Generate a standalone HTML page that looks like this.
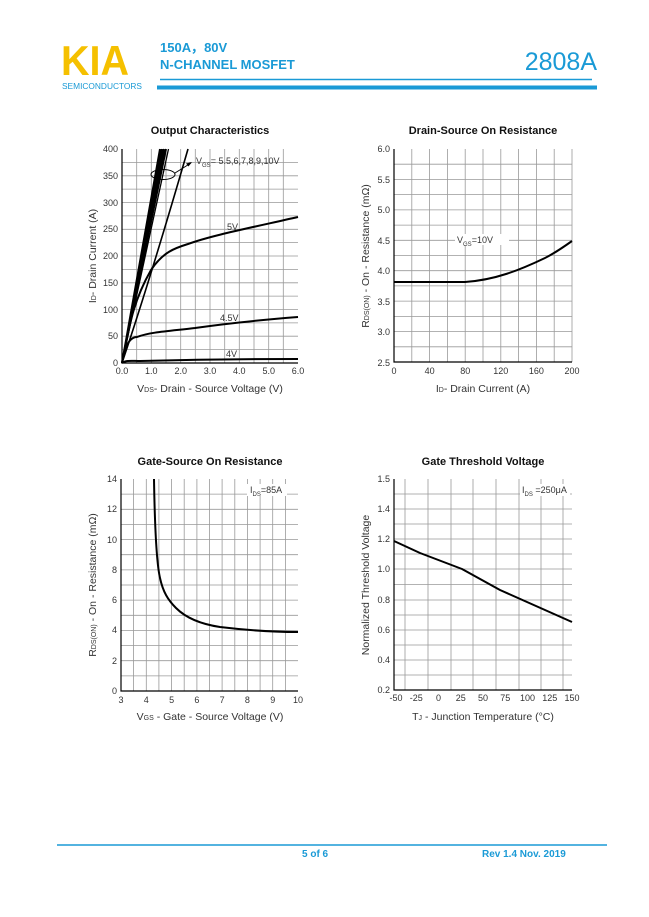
<!DOCTYPE html>
<html><head><meta charset="utf-8"><style>
html,body{margin:0;padding:0;background:#fff;}
body{width:649px;height:917px;overflow:hidden;position:relative;font-family:"Liberation Sans",Arial,sans-serif;}
</style></head><body>
<svg width="649" height="917" viewBox="0 0 649 917" xmlns="http://www.w3.org/2000/svg" style="position:absolute;left:0;top:0;font-family:'Liberation Sans',Arial,sans-serif">
<!-- header -->
<text x="61" y="75" font-size="42" font-weight="bold" fill="#f5c000" textLength="68" lengthAdjust="spacingAndGlyphs">KIA</text>
<text x="62" y="89" font-size="8" fill="#1a9ad6" textLength="80" lengthAdjust="spacingAndGlyphs">SEMICONDUCTORS</text>
<text x="160" y="52" font-size="13" font-weight="bold" fill="#1a9ad6">150A，80V</text>
<text x="160" y="69" font-size="13" font-weight="bold" fill="#1a9ad6">N-CHANNEL MOSFET</text>
<text x="597" y="70" font-size="25" fill="#1a9ad6" text-anchor="end">2808A</text>
<line x1="160" y1="79.5" x2="592" y2="79.5" stroke="#1a9ad6" stroke-width="1.5"/>
<line x1="157" y1="87.5" x2="597" y2="87.5" stroke="#1a9ad6" stroke-width="4"/>
<!-- footer -->
<line x1="57" y1="845" x2="607" y2="845" stroke="#1a9ad6" stroke-width="1.5"/>
<text x="302" y="857" font-size="10" font-weight="bold" fill="#1a9ad6">5 of 6</text>
<text x="482" y="857" font-size="10" font-weight="bold" fill="#1a9ad6">Rev 1.4 Nov. 2019</text>

<g font-size="9.5" fill="#333">
<!-- Chart 1 -->
<text x="210" y="134" font-size="11" font-weight="bold" text-anchor="middle" fill="#111">Output Characteristics</text>
<g stroke="#999" stroke-width="0.8">
<path d="M136.7 149V363M151.3 149V363M166 149V363M180.7 149V363M195.3 149V363M210 149V363M224.7 149V363M239.3 149V363M254 149V363M268.7 149V363M283.3 149V363"/>
<path d="M122 162.4H298M122 175.8H298M122 189.1H298M122 202.5H298M122 215.9H298M122 229.3H298M122 242.6H298M122 256H298M122 269.4H298M122 282.8H298M122 296.1H298M122 309.5H298M122 322.9H298M122 336.2H298M122 349.6H298"/>
</g>
<path d="M122 149V363H298" fill="none" stroke="#000" stroke-width="1.2"/>
<g fill="none" stroke="#000" stroke-width="2">
<path d="M122 363L160 149M122 363L162 149M122 363L164 149M122 363L166 149"/>
<path d="M122 363L168.5 149" stroke-width="1.3"/>
<path d="M122 363Q150 280 188 149" stroke-width="1.6"/>
<path d="M122 363C130 320 135 298 151 270C163 252 175 248 188 244C210 236 240 230 298 217"/>
<path d="M122 363C125 345 130 337 137 337C150 332 170 331 195 328C230 323 260 320 298 317"/>
<path d="M122 363C126 360 132 361 140 361C180 360 240 359 298 359"/>
</g>
<ellipse cx="163" cy="174.5" rx="12" ry="5" fill="none" stroke="#000" stroke-width="1"/>
<path d="M175 173L191 163" stroke="#000" stroke-width="1"/><path d="M192 162l-6 1.5 2.5 3z" fill="#000"/>
<text x="196" y="164" font-size="9">V<tspan font-size="6" dy="3">GS</tspan><tspan dy="-3">= 5.5,6,7,8,9,10V</tspan></text>
<text x="227" y="230" font-size="9">5V</text>
<text x="220" y="321" font-size="9">4.5V</text>
<text x="226" y="357" font-size="9">4V</text>
<g text-anchor="end" font-size="9">
<text x="118" y="152">400</text><text x="118" y="179">350</text><text x="118" y="206">300</text><text x="118" y="232">250</text><text x="118" y="259">200</text><text x="118" y="286">150</text><text x="118" y="313">100</text><text x="118" y="339">50</text><text x="118" y="366">0</text>
</g>
<g text-anchor="middle" font-size="9">
<text x="122" y="374">0.0</text><text x="151.3" y="374">1.0</text><text x="180.7" y="374">2.0</text><text x="210" y="374">3.0</text><text x="239.3" y="374">4.0</text><text x="268.7" y="374">5.0</text><text x="298" y="374">6.0</text>
</g>
<text x="210" y="392" font-size="10.5" text-anchor="middle">V<tspan font-size="7">DS</tspan>- Drain - Source Voltage (V)</text>
<text transform="translate(96 256) rotate(-90)" font-size="10.5" text-anchor="middle">I<tspan font-size="7">D</tspan>- Drain Current (A)</text>

<!-- Chart 2 -->
<text x="483" y="134" font-size="11" font-weight="bold" text-anchor="middle" fill="#111">Drain-Source On Resistance</text>
<g stroke="#999" stroke-width="0.8">
<path d="M411.8 149V362M429.6 149V362M447.4 149V362M465.2 149V362M483 149V362M500.8 149V362M518.6 149V362M536.4 149V362M554.2 149V362M572 149V362"/>
<path d="M394 164.2H572M394 179.4H572M394 194.6H572M394 209.9H572M394 225.1H572M394 240.3H572M394 255.5H572M394 270.7H572M394 285.9H572M394 301.1H572M394 316.4H572M394 331.6H572M394 346.8H572"/>
</g>
<path d="M394 149V362H572" fill="none" stroke="#000" stroke-width="1.2"/>
<path d="M394 282H465C495 280 520 270 545 258C555 253 565 246 572 241" fill="none" stroke="#000" stroke-width="2"/>
<rect x="455" y="234" width="54" height="11" fill="#fff"/>
<text x="457" y="243" font-size="9">V<tspan font-size="6" dy="3">GS</tspan><tspan dy="-3">=10V</tspan></text>
<g text-anchor="end" font-size="9">
<text x="390" y="152">6.0</text><text x="390" y="183">5.5</text><text x="390" y="213">5.0</text><text x="390" y="244">4.5</text><text x="390" y="274">4.0</text><text x="390" y="305">3.5</text><text x="390" y="335">3.0</text><text x="390" y="366">2.5</text>
</g>
<g text-anchor="middle" font-size="9">
<text x="394" y="374">0</text><text x="429.6" y="374">40</text><text x="465.2" y="374">80</text><text x="500.8" y="374">120</text><text x="536.4" y="374">160</text><text x="572" y="374">200</text>
</g>
<text x="483" y="392" font-size="10.5" text-anchor="middle">I<tspan font-size="7">D</tspan>- Drain Current (A)</text>
<text transform="translate(369 256) rotate(-90)" font-size="10.5" text-anchor="middle">R<tspan font-size="7">DS(ON)</tspan> - On - Resistance (mΩ)</text>

<!-- Chart 3 -->
<text x="210" y="465" font-size="11" font-weight="bold" text-anchor="middle" fill="#111">Gate-Source On Resistance</text>
<g stroke="#999" stroke-width="0.8">
<path d="M133.6 479V691M146.3 479V691M158.9 479V691M171.6 479V691M184.2 479V691M196.9 479V691M209.5 479V691M222.1 479V691M234.8 479V691M247.4 479V691M260.1 479V691M272.7 479V691M285.4 479V691"/>
<path d="M121 494.1H298M121 509.3H298M121 524.4H298M121 539.6H298M121 554.7H298M121 569.9H298M121 585H298M121 600.1H298M121 615.3H298M121 630.4H298M121 645.6H298M121 660.7H298M121 675.9H298"/>
</g>
<path d="M121 479V691H298" fill="none" stroke="#000" stroke-width="1.2"/>
<path d="M154 479C155 540 157 565 160 578C163 592 168 600 176 608C186 618 200 624 220 627C245 630 270 632 298 632" fill="none" stroke="#000" stroke-width="2"/>
<rect x="247" y="484" width="40" height="12" fill="#fff"/>
<text x="250" y="493" font-size="9">I<tspan font-size="6" dy="3">DS</tspan><tspan dy="-3">=85A</tspan></text>
<g text-anchor="end" font-size="9">
<text x="117" y="482">14</text><text x="117" y="512">12</text><text x="117" y="543">10</text><text x="117" y="573">8</text><text x="117" y="603">6</text><text x="117" y="633">4</text><text x="117" y="664">2</text><text x="117" y="694">0</text>
</g>
<g text-anchor="middle" font-size="9">
<text x="121" y="703">3</text><text x="146.3" y="703">4</text><text x="171.6" y="703">5</text><text x="196.9" y="703">6</text><text x="222.1" y="703">7</text><text x="247.4" y="703">8</text><text x="272.7" y="703">9</text><text x="298" y="703">10</text>
</g>
<text x="210" y="720" font-size="10.5" text-anchor="middle">V<tspan font-size="7">GS</tspan> - Gate - Source Voltage (V)</text>
<text transform="translate(96 585) rotate(-90)" font-size="10.5" text-anchor="middle">R<tspan font-size="7">DS(ON)</tspan> - On - Resistance (mΩ)</text>

<!-- Chart 4 -->
<text x="483" y="465" font-size="11" font-weight="bold" text-anchor="middle" fill="#111">Gate Threshold Voltage</text>
<g stroke="#999" stroke-width="0.8">
<path d="M405 479V690M428 479V690M451 479V690M473 479V690M496 479V690M519 479V690M541 479V690M563 479V690"/>
<path d="M394 494H572M394 509H572M394 524H572M394 539H572M394 554H572M394 569H572M394 584.5H572M394 600H572M394 615H572M394 630H572M394 645H572M394 660H572M394 675H572"/>
</g>
<path d="M394 479V690H572" fill="none" stroke="#000" stroke-width="1.2"/>
<path d="M394 541L420 553L462 569L500 590L572 622" fill="none" stroke="#000" stroke-width="2" stroke-linejoin="round"/>
<rect x="520" y="484" width="50" height="12" fill="#fff"/>
<text x="522" y="493" font-size="9">I<tspan font-size="6" dy="3">DS</tspan><tspan dy="-3"> =250μA</tspan></text>
<g text-anchor="end" font-size="9">
<text x="390" y="482">1.5</text><text x="390" y="512">1.4</text><text x="390" y="542">1.2</text><text x="390" y="572">1.0</text><text x="390" y="603">0.8</text><text x="390" y="633">0.6</text><text x="390" y="663">0.4</text><text x="390" y="693">0.2</text>
</g>
<g text-anchor="middle" font-size="9">
<text x="396" y="701">-50</text><text x="416.3" y="701">-25</text><text x="438.5" y="701">0</text><text x="460.8" y="701">25</text><text x="483" y="701">50</text><text x="505.3" y="701">75</text><text x="527.5" y="701">100</text><text x="549.8" y="701">125</text><text x="572" y="701">150</text>
</g>
<text x="483" y="720" font-size="10.5" text-anchor="middle">T<tspan font-size="7">J</tspan> - Junction Temperature (°C)</text>
<text transform="translate(369 585) rotate(-90)" font-size="10.5" text-anchor="middle">Normalized Threshold Voltage</text>
</g>
</svg>
</body></html>
